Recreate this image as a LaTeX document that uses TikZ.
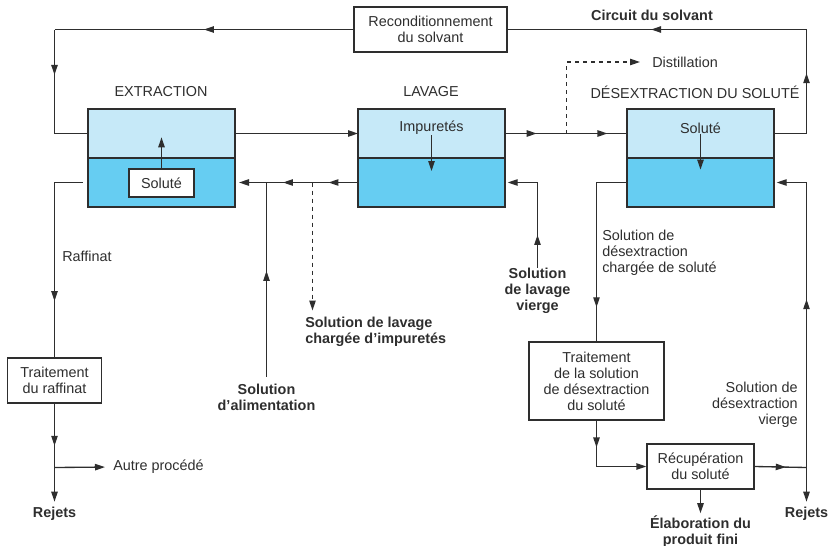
\documentclass[tikz,border=0pt]{standalone}
\usepackage{fontspec}
\setmainfont{Liberation Sans}
\usetikzlibrary{positioning,decorations.markings,arrows.meta}

\definecolor{ink}{HTML}{2E2E2E}
\definecolor{lightphase}{HTML}{C6E9F8}
\definecolor{darkphase}{HTML}{66CDF2}

\tikzset{
  >={Triangle[length=7.5pt,width=4.8pt]},
  flow/.style={draw=ink, color=ink, line width=1pt},
  midarrow/.style={postaction={decorate,decoration={markings,mark=at position #1 with {\arrow{>}}}}},
  txt/.style={text=ink, font=\fontsize{10.8}{12}\selectfont, inner sep=0pt, align=center},
  boldtxt/.style={txt, font=\fontsize{10.8}{12}\selectfont\bfseries},
  phasetop/.style={draw=ink, line width=1pt, fill=lightphase, inner sep=0pt, outer sep=0pt,
    minimum width=110.25pt, minimum height=36.75pt},
  phasebot/.style={phasetop, fill=darkphase},
  procbox/.style={txt, draw=ink, line width=1pt, fill=white}
}

\begin{document}
\begin{tikzpicture}[x=0.75pt,y=-0.75pt]
  \useasboundingbox (0,0) rectangle (828,546);

  % Tanks
  \node[phasetop] (extTop) at (161.5,133.5) {};
  \node[phasebot, below=0pt of extTop] (extBot) {};
  \node[phasetop] (lavTop) at (431.5,133.5) {};
  \node[phasebot, below=0pt of lavTop] (lavBot) {};
  \node[phasetop] (desTop) at (700.5,133.5) {};
  \node[phasebot, below=0pt of desTop] (desBot) {};

  % Titles
  \node[txt] (extTitle) at (161,92) {EXTRACTION};
  \node[txt] (lavTitle) at (431,92) {LAVAGE};
  \node[txt] (desTitle) at (695,92) {DÉSEXTRACTION DU SOLUTÉ};
  \node[boldtxt] (circuit) at (652,15) {Circuit du solvant};

  % Process boxes
  \node[procbox, minimum width=114.75pt, minimum height=33.75pt] (recond) at (430.5,29.5) {Reconditionnement\\du solvant};
  \node[procbox, minimum width=70.5pt, minimum height=33.75pt] (raff) at (54.5,380.5) {Traitement\\du raffinat};
  \node[procbox, minimum width=101.25pt, minimum height=58.5pt] (trait) at (596.5,381) {Traitement\\de la solution\\de désextraction\\du soluté};
  \node[procbox, minimum width=80.25pt, minimum height=33.75pt] (recup) at (700.5,466.5) {Récupération\\du soluté};

  % Free labels
  \node[txt, anchor=west] (distilTxt) at (652,62) {Distillation};
  \node[txt, anchor=west] (raffTxt) at (62,256) {Raffinat};
  \node[txt, anchor=west] (autreTxt) at (113,467) {Autre procédé};
  \node[boldtxt] (rejetsL) at (54.5,514) {Rejets};
  \node[boldtxt] (rejetsR) at (806.5,514) {Rejets};
  \node[boldtxt, align=left, anchor=west] (washTxt) at (305,332) {Solution de lavage\\chargée d’impuretés};
  \node[boldtxt] (feedTxt) at (266.5,397) {Solution\\d’alimentation};
  \node[boldtxt] (lavIn) at (537.5,291) {Solution\\de lavage\\vierge};
  \node[txt, align=left, anchor=west] (desOutTxt) at (602,253) {Solution de\\désextraction\\chargée de soluté};
  \node[txt, align=right, anchor=east] (desInTxt) at (798,405) {Solution de\\désextraction\\vierge};
  \node[boldtxt] (prodTxt) at (700.5,532) {Élaboration du\\produit fini};

  % Junctions
  \coordinate (loopNE) at (806.5,29.5);
  \coordinate (loopNW) at (54.5,29.5);
  \coordinate (distil) at (566.5,133.5);
  \coordinate (washOut) at (312.5,182.5);
  \coordinate (rejR) at (806.5,467.5);
  \coordinate (raffSplit) at (54.5,467.5);

  % Solvent circuit
  \draw[flow, midarrow=0.68] (desTop.east) -| (loopNE);
  \draw[flow, midarrow=0.52] (loopNE) -- (recond.east);
  \draw[flow, midarrow=0.5] (recond.west) -- (loopNW);
  \draw[flow, midarrow=0.33] (loopNW) |- (extTop.west);
  \draw[flow, ->] (extTop.east) -- (lavTop.west);
  \draw[flow, midarrow=0.26, midarrow=0.84] (lavTop.east) -- (desTop.west);
  \draw[flow, dashed, ->, shorten >=9pt] (distil) |- (distilTxt.west);

  % Aqueous side
  \draw[flow, ->, shorten >=3pt, midarrow=0.24, midarrow=0.61] (lavBot.west) -- (extBot.east);
  \draw[flow, dashed, ->] (washOut) -- ++(0,128);
  \draw[flow, shorten <=5pt, midarrow=0.56] (feedTxt.north) -- (feedTxt.north |- extBot.east);
  \draw[flow, ->, shorten >=2pt, midarrow=0.28] (lavIn.north) |- (lavBot.east);

  % Inner transfers
  \node[procbox, minimum width=48.75pt, minimum height=21pt] (extSol) at (161.5,183) {Soluté};
  \draw[flow, ->] (extSol.north) -- ++(0,-31);
  \node[txt] (lavImp) at (431.5,128) {Impuretés};
  \draw[flow, ->] (lavImp.south) -- ++(0,36);
  \node[txt] (desSol) at (700.5,128) {Soluté};
  \draw[flow, ->] (desSol.south) -- ++(0,36);

  % Raffinate
  \draw[flow, shorten <=4pt, midarrow=0.73] (extBot.west) -| (raff.north);
  \draw[flow, midarrow=0.66] (raff.south) -- (raffSplit);
  \draw[flow, ->, shorten >=4pt] (raffSplit) -- (rejetsL.north);
  \draw[flow, ->, shorten >=6pt] (raffSplit) -- (autreTxt.west);

  % Stripping side
  \draw[flow, midarrow=0.82] (desBot.west) -| (trait.north);
  \draw[flow, ->, midarrow=0.28] (trait.south) |- (recup.west);
  \draw[flow, midarrow=0.6] (recup.east) -- (rejR);
  \draw[flow, ->, shorten >=4pt] (rejR) -- (rejetsR.north);
  \draw[flow, ->, shorten >=2pt, midarrow=0.53] (rejR) |- (desBot.east);
  \draw[flow, ->, shorten >=2pt] (recup.south) -- (prodTxt.north);
\end{tikzpicture}
\end{document}
